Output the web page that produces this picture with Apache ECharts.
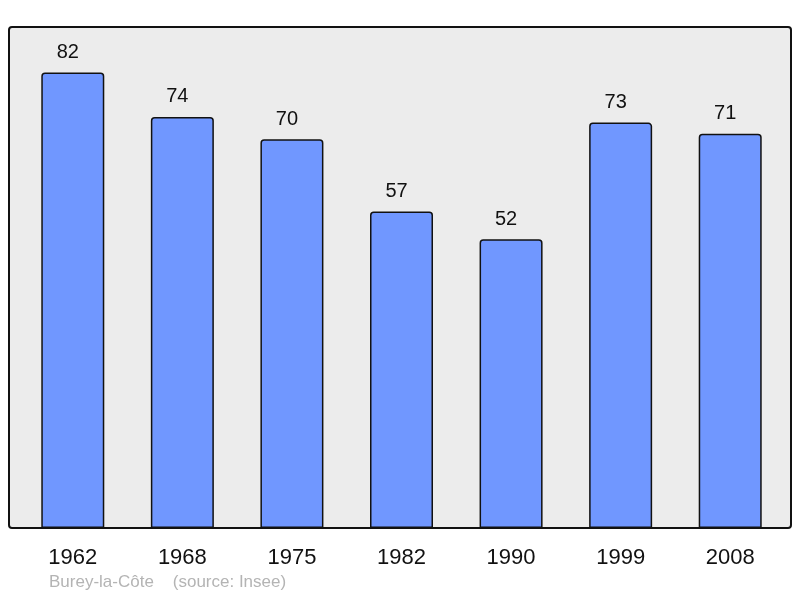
<!DOCTYPE html>
<html>
<head>
<meta charset="utf-8">
<script src="https://cdn.jsdelivr.net/npm/echarts@6/dist/echarts.min.js"></script>
<style>
html, body { margin: 0; padding: 0; background: #fff; }
#chart { width: 800px; height: 598px; }
</style>
</head>
<body>
<div id="chart"></div>
<script>
var years = ['1962', '1968', '1975', '1982', '1990', '1999', '2008'];
var population = [82, 74, 70, 57, 52, 73, 71];
var place = 'Burey-la-Côte';
var source = '(source: Insee)';

var myChart = echarts.init(document.getElementById('chart'));
var option = {
    animation: false,
    grid: {
        left: 18,
        right: 15,
        top: 27,
        bottom: 70
    },
    graphic: [
        {
            type: 'rect',
            z: -1,
            shape: { x: 9, y: 27, width: 782, height: 501, r: 3 },
            style: { fill: '#ececec', stroke: '#111', lineWidth: 2 }
        },
        {
            type: 'text',
            left: 49,
            top: 574,
            style: {
                text: place + '    ' + source,
                fill: '#b4b4b4',
                font: '17px "Liberation Sans", Arial, sans-serif'
            }
        }
    ],
    xAxis: {
        type: 'category',
        data: years,
        axisLine: { show: false },
        axisTick: { show: false },
        axisLabel: {
            color: '#111',
            fontSize: 22,
            fontFamily: '"Liberation Sans", Arial, sans-serif',
            margin: 19
        }
    },
    yAxis: {
        type: 'value',
        min: 0,
        max: 90.2,
        show: false,
        splitLine: { show: false }
    },
    series: [
        {
            type: 'bar',
            data: population,
            barWidth: 63,
            itemStyle: {
                color: '#7097ff',
                borderColor: '#111',
                borderWidth: 1.5,
                borderRadius: [3, 3, 0, 0]
            },
            label: {
                show: true,
                position: 'top',
                distance: 10,
                offset: [-5, 0],
                color: '#111',
                fontSize: 20,
                fontFamily: '"Liberation Sans", Arial, sans-serif'
            }
        }
    ]
};
myChart.setOption(option);
</script>
</body>
</html>
